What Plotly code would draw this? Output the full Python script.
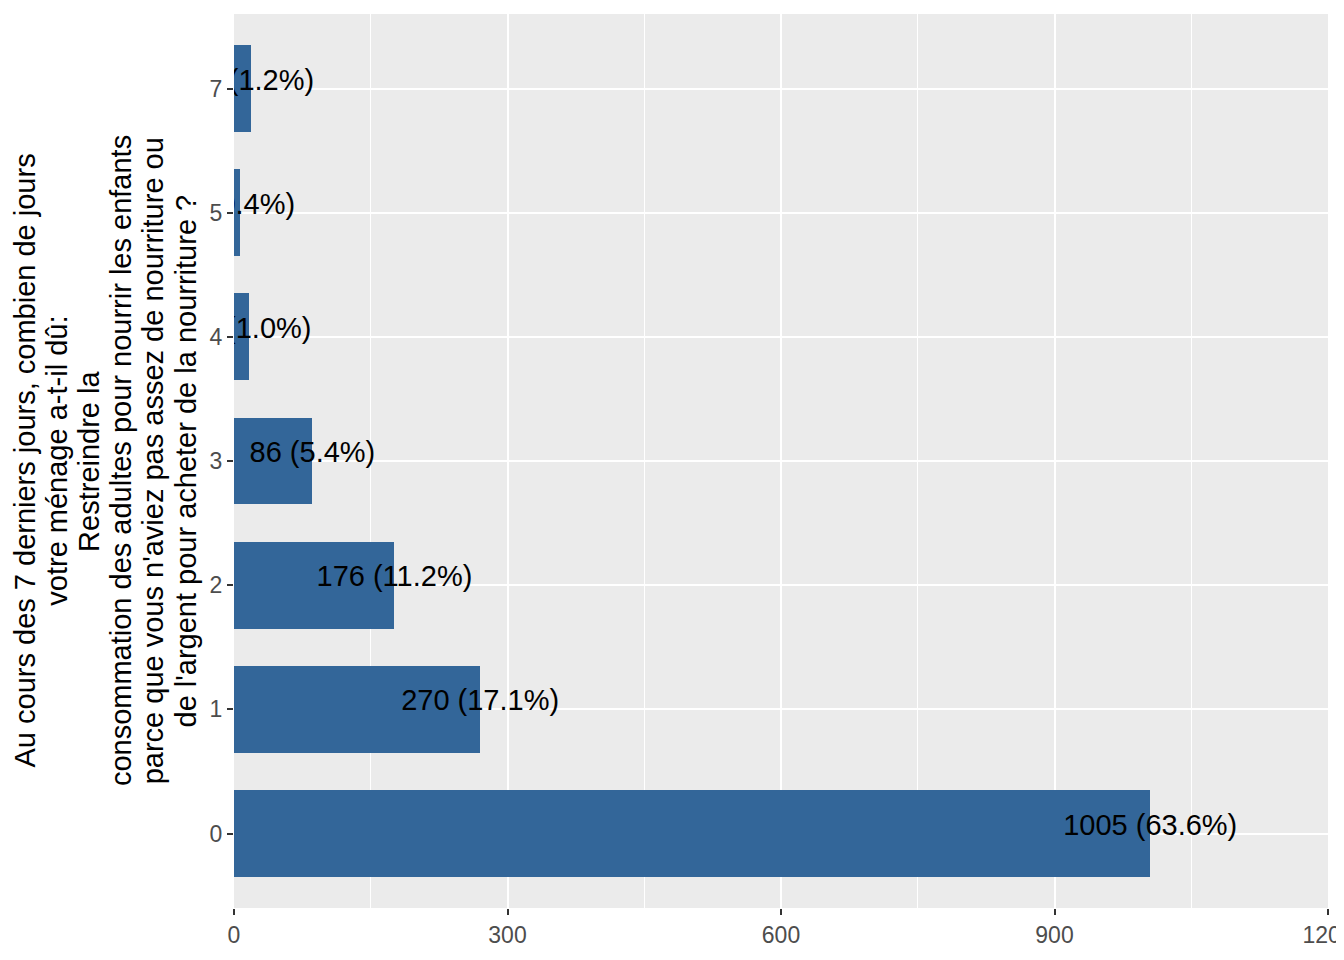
import plotly.graph_objects as go

categories = ["0", "1", "2", "3", "4", "5", "7"]
counts = [1005, 270, 176, 86, 16, 7, 19]
percent_labels = ["63.6%", "17.1%", "11.2%", "5.4%", "1.0%", "0.4%", "1.2%"]
x_ticks = [0, 300, 600, 900, 1200]
title_lines = [
    "Au cours des 7 derniers jours, combien de jours",
    "votre ménage a-t-il dû:",
    "Restreindre la",
    "consommation des adultes pour nourrir les enfants",
    "parce que vous n'aviez pas assez de nourriture ou",
    "de l'argent pour acheter de la nourriture ?",
]

positions = list(range(len(categories)))
labels = [f"{c} ({p})" for c, p in zip(counts, percent_labels)]

FONT = "Liberation Sans, Arial, sans-serif"
BAR = "#336699"

# layout geometry (page has 8px body margin)
W, H = 1344, 960
ML, MR, MT, MB = 226, 24, 6, 60
PLOT_LEFT = ML + 8
PLOT_W = W - ML - MR

fig = go.Figure()
fig.add_trace(go.Bar(
    x=counts, y=positions, orientation="h", width=0.7,
    marker=dict(color=BAR, line=dict(width=0)), hoverinfo="skip",
))
fig.add_trace(go.Scatter(
    x=counts, y=[p + 0.05 for p in positions], mode="text", text=labels,
    textposition="middle center", cliponaxis=True,
    textfont=dict(family=FONT, size=29, color="black"), hoverinfo="skip",
))

# axis title: six centred rotated lines
first_px, step_px = 24.5, 32.2
for i, line in enumerate(title_lines):
    px = first_px + i * step_px
    fig.add_annotation(
        text=line, xref="paper", yref="paper", x=(px - PLOT_LEFT) / PLOT_W, y=0.5,
        xanchor="center", yanchor="middle", textangle=-90, showarrow=False,
        font=dict(family=FONT, size=29, color="black"),
    )

fig.update_layout(
    width=W, height=H,
    margin=dict(l=ML, r=MR, t=MT, b=MB, autoexpand=False),
    paper_bgcolor="white", plot_bgcolor="#EBEBEB",
    showlegend=False, bargap=0,
    font=dict(family=FONT),
)
fig.update_xaxes(
    range=[0, 1200], tickvals=x_ticks, ticktext=[str(v) for v in x_ticks],
    showgrid=True, gridcolor="white", gridwidth=2,
    minor=dict(tickvals=[150, 450, 750, 1050], showgrid=True, gridcolor="white", gridwidth=1, ticks=""),
    zeroline=False, showline=False, automargin=False,
    ticks="outside", ticklen=6, tickwidth=2, tickcolor="#333333",
    ticklabeloverflow="allow",
    tickfont=dict(family=FONT, size=23, color="#4D4D4D"),
)
fig.update_yaxes(
    range=[-0.6, 6.6], tickvals=positions, ticktext=categories,
    showgrid=True, gridcolor="white", gridwidth=2,
    zeroline=False, showline=False, automargin=False,
    ticks="outside", ticklen=6, tickwidth=2, tickcolor="#333333",
    tickfont=dict(family=FONT, size=23, color="#4D4D4D"),
)

fig.write_html("out.html")
